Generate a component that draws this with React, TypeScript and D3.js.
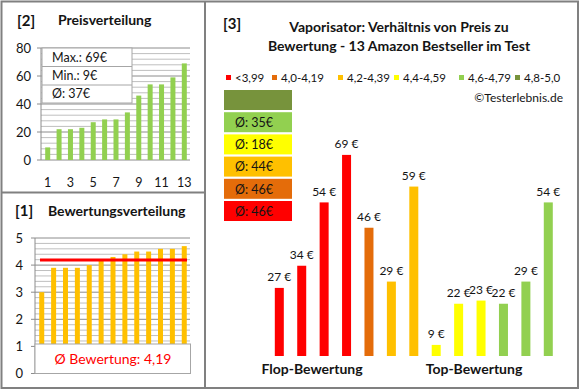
import * as d3 from "d3";

// Produkte sortiert nach Bewertung (Flop -> Top)
const bewertungen = [3.0, 3.9, 3.9, 3.9, 4.0, 4.2, 4.3, 4.4, 4.5, 4.5, 4.6, 4.6, 4.7];
const preise = [27, 34, 54, 69, 46, 29, 59, 9, 22, 23, 22, 29, 54];

// Bewertungsklassen
const klassenLabels = ["<3,99", "4,0-4,19", "4,2-4,39", "4,4-4,59", "4,6-4,79", "4,8-5,0"];
const klassenGrenzen = [4.0, 4.2, 4.4, 4.6, 4.8];
const klassenFarben = ["#FF0000", "#E46C0A", "#FFC000", "#FFFF00", "#92D050", "#77933C"];

const preisTicks = [0, 20, 40, 60, 80];
const bewTicks = [0, 1, 2, 3, 4, 5];

const FONT = "Lato, 'DejaVu Sans', sans-serif";
const TXT = "#141414";
const GRID = "#bfbfbf";
const BORDER = "#808080";

const klasse = d3.scaleThreshold<number, number>().domain(klassenGrenzen).range([0, 1, 2, 3, 4, 5]);

export default function App() {
  const idx = d3.range(preise.length);
  const sortiert = [...preise].sort((a, b) => a - b);
  const avgPreis = Math.round(d3.mean(preise)!);
  const avgBew = d3.mean(bewertungen)!;

  // [2] Preisverteilung
  const x2 = d3.scalePoint<number>().domain(idx).range([42, 190]).padding(0.5);
  const y2 = d3.scaleLinear().domain([0, 80]).range([160, 48]);

  // [1] Bewertungsverteilung
  const x1 = d3.scalePoint<number>().domain(idx).range([35.8, 190.2]).padding(0.5);
  const y1 = d3.scaleLinear().domain([0, 5]).range([373.5, 238]);

  // [3] Hauptchart
  const x3 = d3.scalePoint<number>().domain(idx).range([268.1, 559.5]).padding(0.5);
  const y3 = d3.scaleLinear().domain([5.5, 75]).range([356, 135.9]);

  const klassenAvg = klassenFarben.map((_, k) => {
    const vals = preise.filter((_, i) => klasse(bewertungen[i]) === k);
    return vals.length ? Math.round(d3.mean(vals)!) : null;
  });

  const legendX = [226, 272, 338, 394, 459, 515];

  return (
    <svg width={580} height={390} style={{ position: "absolute", left: 0, top: 0, fontFamily: FONT }}>
      <rect x={0} y={0} width={580} height={390} fill="#fff" />

      {/* panel frames */}
      <rect x={1.5} y={1.5} width={576.5} height={386.5} fill="none" stroke={BORDER} strokeWidth={2} />
      <line x1={205} x2={205} y1={1} y2={389} stroke={BORDER} strokeWidth={2} />
      <line x1={1} x2={205} y1={192.5} y2={192.5} stroke={BORDER} strokeWidth={2} />

      {/* ---------- [2] Preisverteilung ---------- */}
      <text x={17} y={26} fontSize={15} fontWeight="bold" fill={TXT}>[2]</text>
      <text x={58} y={25} fontSize={14} fontWeight="bold" fill={TXT}>Preisverteilung</text>
      {d3.range(0, 81, 4).map((t) => (
        <line key={t} x1={41} x2={190} y1={y2(t)} y2={y2(t)} stroke={t % 20 === 0 ? "#8c8c8c" : GRID} strokeWidth={1} />
      ))}
      <line x1={41} x2={41} y1={y2(80)} y2={y2(0)} stroke="#8c8c8c" />
      {preisTicks.map((t) => (
        <g key={t}>
          <line x1={37} x2={41} y1={y2(t)} y2={y2(t)} stroke="#8c8c8c" />
          <text x={31} y={y2(t)} dy="0.35em" textAnchor="end" fontSize={13} fill={TXT}>{t}</text>
        </g>
      ))}
      {sortiert.map((v, i) => (
        <rect key={i} x={x2(i)! - 2.5} y={y2(v)} width={5} height={y2(0) - y2(v)} fill="#92D050" />
      ))}
      {idx.filter((i) => i % 2 === 0).map((i) => (
        <text key={i} x={x2(i)} y={183} dy="0.35em" textAnchor="middle" fontSize={12.5} fill={TXT}>{i + 1}</text>
      ))}
      <rect x={42} y={48} width={90} height={55} fill="#fff" stroke="#a6a6a6" />
      <line x1={42} x2={132} y1={66.5} y2={66.5} stroke="#a6a6a6" />
      <line x1={42} x2={132} y1={85} y2={85} stroke="#a6a6a6" />
      {[`Max.: ${d3.max(preise)}€`, `Min.: ${d3.min(preise)}€`, `Ø: ${avgPreis}€`].map((s, i) => (
        <text key={s} x={52} y={57.5 + i * 18.3} dy="0.35em" fontSize={12.5} fill={TXT}>{s}</text>
      ))}

      {/* ---------- [1] Bewertungsverteilung ---------- */}
      <text x={15} y={216} fontSize={15} fontWeight="bold" fill={TXT}>[1]</text>
      <text x={48} y={216} fontSize={14} fontWeight="bold" fill={TXT}>Bewertungsverteilung</text>
      {d3.range(0, 26).map((k) => {
        const t = k / 5;
        return <line key={k} x1={35} x2={190} y1={y1(t)} y2={y1(t)} stroke={k % 5 === 0 ? "#8c8c8c" : GRID} />;
      })}
      <line x1={35} x2={35} y1={y1(5)} y2={y1(0)} stroke="#8c8c8c" />
      {bewTicks.map((t) => (
        <g key={t}>
          <line x1={31} x2={35} y1={y1(t)} y2={y1(t)} stroke="#8c8c8c" />
          <text x={23} y={y1(t)} dy="0.35em" textAnchor="end" fontSize={13} fill={TXT}>{t}</text>
        </g>
      ))}
      {bewertungen.map((v, i) => (
        <rect key={i} x={x1(i)! - 2.5} y={y1(v)} width={5} height={y1(0) - y1(v)} fill="#FFC000" />
      ))}
      <line x1={40} x2={187} y1={y1(avgBew)} y2={y1(avgBew)} stroke="#FF0000" strokeWidth={3} />
      <rect x={35} y={344} width={155.5} height={29.5} fill="#fff" stroke="#a6a6a6" />
      <text x={113} y={359.5} dy="0.35em" textAnchor="middle" fontSize={14} fill="#FF0000">
        {`Ø Bewertung: ${avgBew.toFixed(2).replace(".", ",")}`}
      </text>

      {/* ---------- [3] Hauptchart ---------- */}
      <text x={223} y={29} fontSize={15} fontWeight="bold" fill={TXT}>[3]</text>
      <text x={399} y={32} textAnchor="middle" fontSize={14} fontWeight="bold" fill={TXT}>
        Vaporisator: Verhältnis von Preis zu
      </text>
      <text x={399} y={51} textAnchor="middle" fontSize={14} fontWeight="bold" fill={TXT}>
        Bewertung - 13 Amazon Bestseller im Test
      </text>
      {klassenLabels.map((l, k) => (
        <g key={l}>
          <rect x={legendX[k]} y={75} width={5} height={5} fill={klassenFarben[k]} />
          <text x={legendX[k] + 9} y={78} dy="0.35em" fontSize={11.5} fill={TXT}>{l}</text>
        </g>
      ))}
      <text x={563} y={98} dy="0.35em" textAnchor="end" fontSize={12} fill={TXT}>©Testerlebnis.de</text>

      {klassenFarben.map((c, k) => {
        const row = 5 - k;
        const y = 90 + row * 22.2;
        const a = klassenAvg[k];
        return (
          <g key={c}>
            <rect x={224} y={y} width={68} height={20} fill={c} />
            {a !== null && (
              <text x={235} y={y + 10.5} dy="0.35em" fontSize={12.5} fill={TXT}>{`Ø: ${a}€`}</text>
            )}
          </g>
        );
      })}

      {preise.map((v, i) => (
        <g key={i}>
          <rect x={x3(i)! - 4.5} y={y3(v)} width={9} height={y3(5.5) - y3(v)} fill={klassenFarben[klasse(bewertungen[i])]} />
          <text x={x3(i)} y={y3(v) - 11} dy="0.35em" textAnchor="middle" fontSize={12} fill={TXT}>{`${v} €`}</text>
        </g>
      ))}
      <text x={312} y={369} dy="0.35em" textAnchor="middle" fontSize={14} fontWeight="bold" fill={TXT}>Flop-Bewertung</text>
      <text x={474} y={369} dy="0.35em" textAnchor="middle" fontSize={14} fontWeight="bold" fill={TXT}>Top-Bewertung</text>
    </svg>
  );
}
